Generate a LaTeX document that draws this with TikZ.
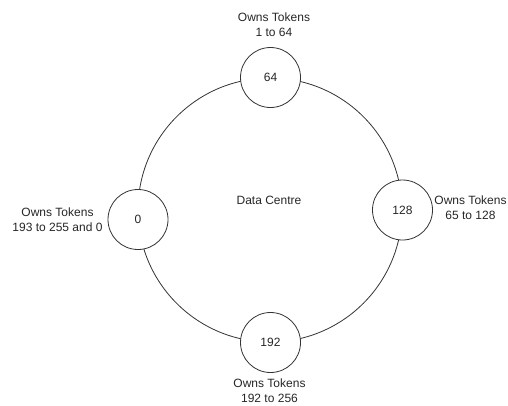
\documentclass[tikz,border=0pt]{standalone}
\usepackage{fontspec}
\setmainfont{Liberation Sans}
\begin{document}
\begin{tikzpicture}[x=1pt, y=-1pt,
  every node/.style={font=\fontsize{12}{15}\selectfont, text=black!85},
  ring/.style={draw=black!80, line width=0.8pt, circle, minimum size=264pt, inner sep=0pt},
  token/.style={draw=black!80, line width=0.8pt, circle, fill=white, minimum size=60pt, inner sep=0pt},
  label/.style={align=center, inner sep=0pt}]
  \useasboundingbox (0,0) rectangle (508,405);
  % ring of the data centre
  \node[ring] (dc) at (270,210) {};
  \node[inner sep=0pt] (dctext) at (269,200) {Data Centre};
  % token owners on the ring
  \node[token] (n64)  at (270.5,77.5) {64};
  \node[token] (n128) at (402.5,210) {128};
  \node[token] (n192) at (270.5,342.5) {192};
  \node[token] (n0)   at (138,219.5) {0};
  % ownership labels
  \node[label] (l64)  at (274,25)    {Owns Tokens\\1 to 64};
  \node[label] (l128) at (470.5,208) {Owns Tokens\\65 to 128};
  \node[label] (l192) at (269.5,390.5) {Owns Tokens\\192 to 256};
  \node[label] (l0)   at (57.5,220)  {Owns Tokens\\193 to 255 and 0};
\end{tikzpicture}
\end{document}
